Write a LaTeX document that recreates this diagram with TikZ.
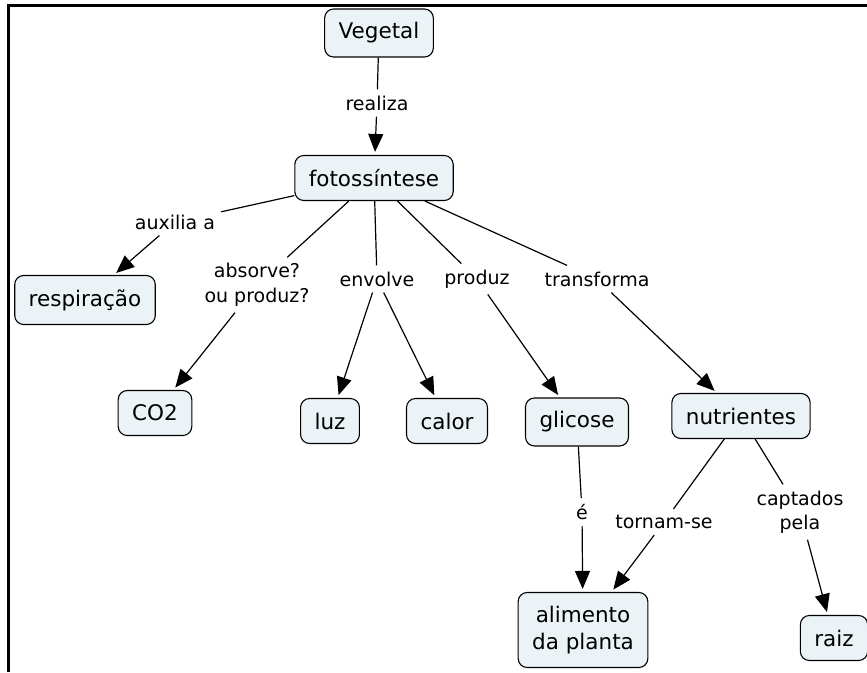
\documentclass[tikz,border=0pt]{standalone}
\usepackage{fontspec}
\setmainfont{DejaVu Sans}
\usetikzlibrary{arrows.meta}
\definecolor{conceptfill}{RGB}{235,243,246}
\tikzset{
  concept/.style={draw=black, fill=conceptfill, line width=1.1pt, rounded corners=9pt, inner xsep=14pt, minimum height=45pt, align=center, font=\fontsize{21.5}{27}\selectfont},
  phrase/.style={inner sep=6pt, align=center, font=\fontsize{19}{24.5}\selectfont},
  link/.style={line width=1.2pt},
  linkarrow/.style={-{Triangle[length=18pt,width=15pt]}, line width=1.2pt, shorten >=3pt},
  frame/.style={line width=3pt}
}

\begin{document}
\begin{tikzpicture}[x=1pt,y=-1pt]
  \useasboundingbox (0,0) rectangle (867,672);
  \draw[frame] (867,5.5) -- (8.5,5.5) -- (8.5,672);
  % concepts
  \node[concept, minimum height=48pt] (vegetal) at (379,33) {Vegetal};
  \node[concept] (fotossintese) at (374,178) {fotossíntese};
  \node[concept, minimum height=49pt] (respiracao) at (85,300) {respiração};
  \node[concept] (co2) at (155,413) {CO2};
  \node[concept] (luz) at (330,421) {luz};
  \node[concept] (calor) at (447,421) {calor};
  \node[concept, minimum height=48pt] (glicose) at (577,422) {glicose};
  \node[concept] (nutrientes) at (741,416) {nutrientes};
  \node[concept, minimum height=75pt] (alimento) at (583,630) {alimento\\da planta};
  \node[concept] (raiz) at (834,638) {raiz};
  % linking phrases
  \node[phrase] (realiza) at (377,103) {realiza};
  \node[phrase] (auxilia) at (175,222) {auxilia a};
  \node[phrase] (absorve) at (257,285) {absorve?\\ou produz?};
  \node[phrase] (envolve) at (377,279) {envolve};
  \node[phrase] (produz) at (477,279) {produz};
  \node[phrase] (transforma) at (597,279) {transforma};
  \node[phrase] (e) at (582,512) {é};
  \node[phrase] (tornam) at (664,522) {tornam-se};
  \node[phrase] (captados) at (800,512) {captados\\pela};
  % connections
  \draw[link] (vegetal) -- (realiza);
  \draw[linkarrow] (realiza) -- (fotossintese);
  \draw[link] (fotossintese) -- (auxilia);
  \draw[linkarrow] (auxilia) -- (respiracao);
  \draw[link] (fotossintese) -- (absorve);
  \draw[linkarrow] (absorve) -- (co2);
  \draw[link] (fotossintese) -- (envolve);
  \draw[linkarrow] (envolve) -- (luz);
  \draw[linkarrow] (envolve) -- (calor);
  \draw[link] (fotossintese) -- (produz);
  \draw[linkarrow] (produz) -- (glicose);
  \draw[link] (fotossintese) -- (transforma);
  \draw[linkarrow] (transforma) -- (nutrientes);
  \draw[link] (glicose) -- (e);
  \draw[linkarrow] (e) -- (alimento);
  \draw[link] (nutrientes) -- (tornam);
  \draw[linkarrow] (tornam) -- (alimento);
  \draw[link] (nutrientes) -- (captados);
  \draw[linkarrow] (captados) -- (raiz);
\end{tikzpicture}
\end{document}
